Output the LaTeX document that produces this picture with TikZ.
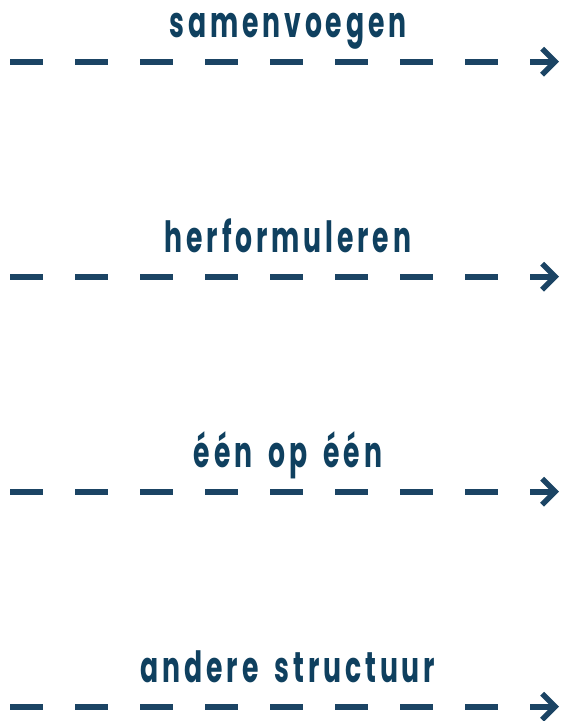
\documentclass[tikz,border=0pt]{standalone}
\usepackage{fontspec}
\usetikzlibrary{arrows.meta}
\newfontfamily\lblfont[FakeStretch=0.62,LetterSpace=9,WordSpace=1.7]{Poppins Bold}
\definecolor{txtblue}{HTML}{0F405F}
\definecolor{lineblue}{HTML}{1B4464}
\begin{document}
\begin{tikzpicture}[x=1pt,y=-1pt,
  lbl/.style={inner sep=0pt,anchor=base,text=txtblue,font=\lblfont\fontsize{43}{46}\selectfont},
  flow/.style={draw=lineblue,line width=6pt,dash pattern=on 32.5pt off 32.5pt,
    -{Straight Barb[length=13pt,width=26pt,line width=5.5pt]}}]
\useasboundingbox (0,0) rectangle (562,721);
\foreach \i/\y/\t in {1/61.7/samenvoegen,2/276.7/herformuleren,3/491.7/één op één,4/706.7/andere structuur}{
  \coordinate (s\i) at (10,\y);
  \coordinate (e\i) at (559,\y);
  \node[lbl] (t\i) at (288,\y-23.8) {\t};
  \draw[flow] (s\i) -- (e\i);
}
\end{tikzpicture}
\end{document}
